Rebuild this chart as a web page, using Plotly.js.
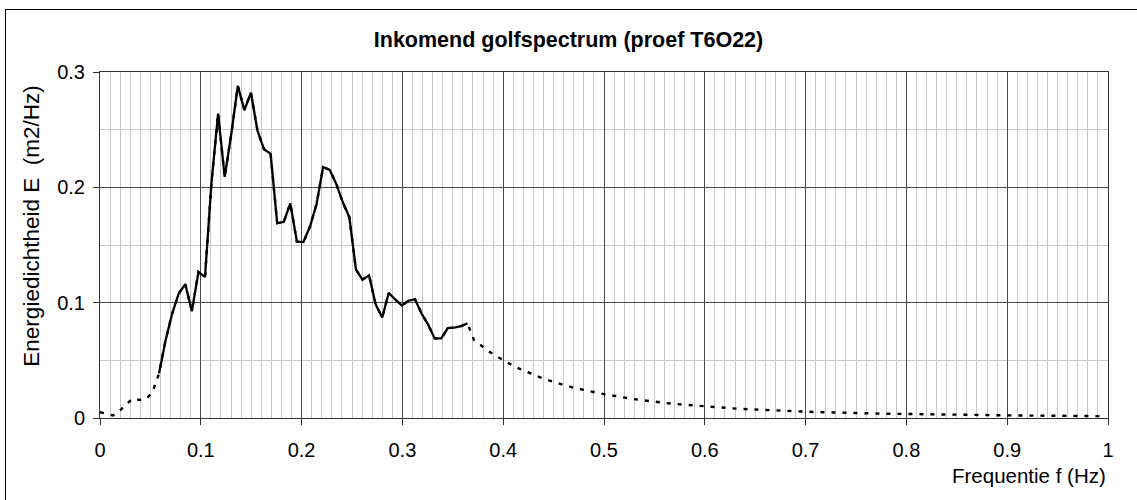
<!DOCTYPE html>
<html>
<head>
<meta charset="utf-8">
<script src="https://cdn.plot.ly/plotly-3.0.1.min.js"></script>
<style>
  html, body { margin: 0; padding: 0; background: #fff; }
  #wrap { position: relative; width: 1137px; height: 500px; overflow: hidden; }
  #chart { position: absolute; left: 0; top: 0; width: 1137px; height: 500px; }
  #frame { position: absolute; left: 5px; top: 9px; width: 1200px; height: 600px;
           border-left: 1px solid #000; border-top: 1px solid #000; pointer-events: none; }
</style>
</head>
<body>
<div id="wrap">
  <div id="chart"></div>
  <div id="frame"></div>
</div>
<script>
// Spectral resolution of the analysed record (Hz per bin)
const FREQ_STEP = 0.0065104;

// Energy density per frequency bin, starting at f = 0 (m2/Hz)
const energy = [
  0.0050, 0.0035, 0.0022, 0.0062, 0.0120, 0.0168, 0.0157, 0.0163, 0.0225, 0.0387,
  0.0675, 0.0906, 0.1080, 0.1160, 0.0926, 0.1266, 0.1223, 0.2050, 0.2640, 0.2090,
  0.2460, 0.2880, 0.2670, 0.2820, 0.2490, 0.2330, 0.2290, 0.1690, 0.1700, 0.1860,
  0.1530, 0.1525, 0.1660, 0.1855, 0.2175, 0.2152, 0.2030, 0.1870, 0.1740, 0.1287,
  0.1200, 0.1237, 0.0986, 0.0871, 0.1084, 0.1027, 0.0975, 0.1017, 0.1030, 0.0906,
  0.0810, 0.0690, 0.0690, 0.0780, 0.0784, 0.0796, 0.0820, 0.0675, 0.0630, 0.0588,
  0.0550, 0.0515, 0.0482, 0.0452, 0.0425, 0.0400, 0.0376, 0.0354, 0.0333, 0.0314,
  0.0297, 0.0281, 0.0266, 0.0252, 0.0239, 0.0226, 0.0215, 0.0205, 0.0194, 0.0185,
  0.0176, 0.0167, 0.0159, 0.0151, 0.0144, 0.0137, 0.0131, 0.0125, 0.0120, 0.0115,
  0.0110, 0.0105, 0.0100, 0.0096, 0.0092, 0.0088, 0.0085, 0.0081, 0.0078, 0.0075,
  0.0072, 0.0069, 0.0067, 0.0064, 0.0062, 0.0060, 0.0058, 0.0056, 0.0054, 0.0052,
  0.0050, 0.0049, 0.0047, 0.0046, 0.0044, 0.0043, 0.0041, 0.0040, 0.0039, 0.0038,
  0.0037, 0.0036, 0.0035, 0.0034, 0.0033, 0.0032, 0.0031, 0.0030, 0.0030, 0.0029,
  0.0028, 0.0027, 0.0027, 0.0026, 0.0025, 0.0025, 0.0024, 0.0023, 0.0023, 0.0022,
  0.0022, 0.0021, 0.0021, 0.0020, 0.0020, 0.0019, 0.0019, 0.0019, 0.0018, 0.0018,
  0.0017, 0.0017, 0.0017, 0.0016
];

// Bins inside the measured band (drawn solid)
const bandFirst = 9;
const bandLast = 56;

const chartTitle = 'Inkomend golfspectrum (proef T6O22)';
const xTitle = 'Frequentie f (Hz)';
const yTitle = 'Energiedichtheid E  (m2/Hz)';

const FONT = '"Liberation Sans", Arial, Helvetica, sans-serif';

const fullSpectrum = {
  type: 'scatter', mode: 'lines',
  x0: 0, dx: FREQ_STEP, y: energy,
  line: { color: '#000', width: 2.4, dash: '4px,7px' },
  hoverinfo: 'x+y', showlegend: false
};

const measuredBand = {
  type: 'scatter', mode: 'lines',
  x0: bandFirst * FREQ_STEP, dx: FREQ_STEP,
  y: energy.slice(bandFirst, bandLast + 1),
  line: { color: '#000', width: 2.3 },
  hoverinfo: 'x+y', showlegend: false
};

const layout = {
  width: 1137, height: 500,
  margin: { l: 100, r: 29, t: 72, b: 82 },
  paper_bgcolor: '#fff', plot_bgcolor: '#fff',
  font: { family: FONT, size: 20, color: '#000' },
  title: {
    text: '<b>' + chartTitle + '</b>',
    font: { family: FONT, size: 21.5, color: '#000' },
    x: 0.5, xref: 'container', xanchor: 'center',
    y: 461 / 500, yref: 'container', yanchor: 'middle'
  },
  xaxis: {
    range: [0, 1], dtick: 0.1, tick0: 0,
    showgrid: true, gridcolor: '#4a4a4a', gridwidth: 1,
    minor: { dtick: 0.01, showgrid: true, gridcolor: '#c8c8c8', gridwidth: 1 },
    showline: true, linecolor: '#333', linewidth: 1, mirror: true,
    ticks: 'outside', ticklen: 6, tickcolor: '#333',
    ticklabelstandoff: 8,
    zeroline: false, fixedrange: true,
    tickfont: { family: FONT, size: 20, color: '#000' }
  },
  yaxis: {
    range: [0, 0.3], dtick: 0.1, tick0: 0,
    showgrid: true, gridcolor: '#4a4a4a', gridwidth: 1,
    minor: { dtick: 0.05, showgrid: true, gridcolor: '#c8c8c8', gridwidth: 1 },
    showline: true, linecolor: '#333', linewidth: 1, mirror: true,
    ticks: 'outside', ticklen: 6, tickcolor: '#333',
    ticklabelstandoff: 4,
    zeroline: false, fixedrange: true,
    tickfont: { family: FONT, size: 20, color: '#000' }
  },
  annotations: [
    {
      text: xTitle, xref: 'paper', yref: 'paper',
      x: 1, y: -57 / 346, xanchor: 'right', yanchor: 'middle',
      showarrow: false, font: { family: FONT, size: 20.5, color: '#000' }
    },
    {
      text: yTitle, xref: 'paper', yref: 'paper',
      x: -68 / 1008, y: 0.553, xanchor: 'center', yanchor: 'middle',
      textangle: -90,
      showarrow: false, font: { family: FONT, size: 22.5, color: '#000' }
    }
  ]
};

Plotly.newPlot('chart', [fullSpectrum, measuredBand], layout, { staticPlot: true, displayModeBar: false });
</script>
</body>
</html>
